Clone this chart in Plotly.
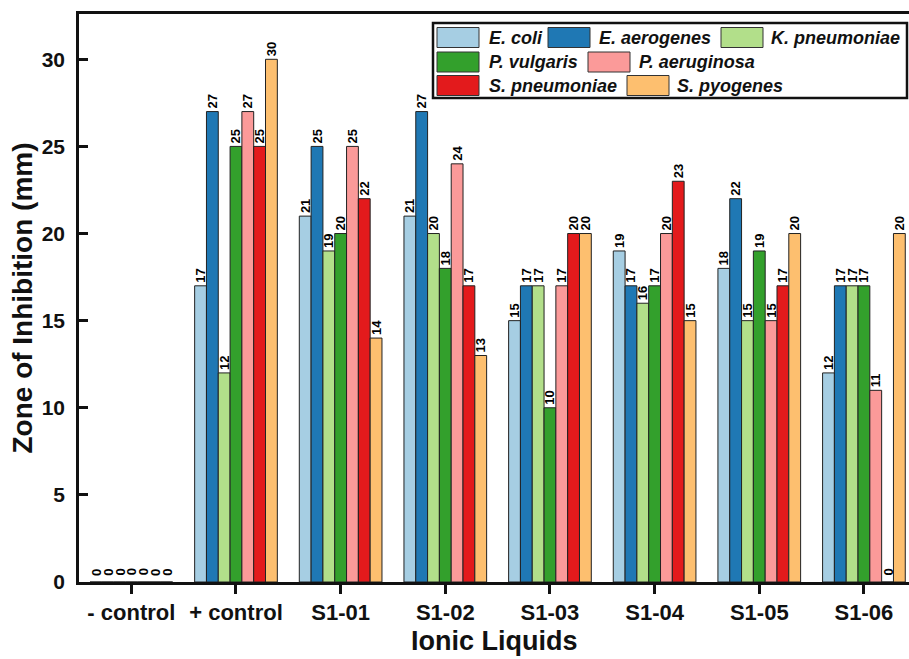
import plotly.graph_objects as go

# Zone of inhibition (mm) for each organism across the tested samples
samples = ["- control", "+ control", "S1-01", "S1-02", "S1-03", "S1-04", "S1-05", "S1-06"]
organisms = ["E. coli", "E. aerogenes", "K. pneumoniae", "P. vulgaris",
             "P. aeruginosa", "S. pneumoniae", "S. pyogenes"]

e_coli = [0, 17, 21, 21, 15, 19, 18, 12]
e_aerogenes = [0, 27, 25, 27, 17, 17, 22, 17]
k_pneumoniae = [0, 12, 19, 20, 17, 16, 15, 17]
p_vulgaris = [0, 25, 20, 18, 10, 17, 19, 17]
p_aeruginosa = [0, 27, 25, 24, 17, 20, 15, 11]
s_pneumoniae = [0, 25, 22, 17, 20, 23, 17, 0]
s_pyogenes = [0, 30, 14, 13, 20, 15, 20, 20]

series = [e_coli, e_aerogenes, k_pneumoniae, p_vulgaris,
          p_aeruginosa, s_pneumoniae, s_pyogenes]
colors = ["#a6cee3", "#1f78b4", "#b2df8a", "#33a02c", "#fb9a99", "#e31a1c", "#fdbf6f"]

W, H = 909, 659
ML, MR, MT, MB = 79, 0, 14, 77
PW, PH = W - ML - MR, H - MT - MB
BARGAP = 0.21

FONT = "Arial, Liberation Sans, sans-serif"
INK = "#111111"
LABEL_FONT = dict(family=FONT, size=13, color="#000000", weight="bold")

fig = go.Figure()
for name, vals, col in zip(organisms, series, colors):
    fig.add_trace(go.Bar(
        x=list(range(len(samples))), y=vals, name=name,
        marker=dict(color=col, line=dict(color="#222222", width=1)),
        # zero-height bars get their value label as an annotation below
        text=[str(v) if v != 0 else "" for v in vals],
        textposition="outside", textangle=-90,
        textfont=LABEL_FONT,
        constraintext="none", cliponaxis=False, showlegend=False,
    ))

annotations = []

# value labels for zero-height bars, rotated like the others
n = len(series)
bar_w = (1 - BARGAP) / n
for k, vals in enumerate(series):
    for i, v in enumerate(vals):
        if v == 0:
            annotations.append(dict(
                x=i + (k - (n - 1) / 2) * bar_w, y=v, xref="x", yref="y",
                text=f"<b>{v}</b>", textangle=-90, showarrow=False,
                xanchor="center", yanchor="middle", yshift=10,
                font=LABEL_FONT))


def px_x(px):
    return (px - ML) / PW


def px_y(py):
    return (H - MB - py) / PH


shapes = []

# legend frame
shapes.append(dict(type="rect", xref="paper", yref="paper",
                   x0=px_x(433), x1=px_x(907), y0=px_y(98), y1=px_y(23),
                   fillcolor="white", line=dict(color=INK, width=2.5), layer="above"))

# legend entries: (swatch left, text left, row center y)
legend_layout = [(437, 487, 37.5), (548, 597, 37.5), (721, 769, 37.5),
                 (437, 487, 62), (588, 637, 62),
                 (437, 487, 85.5), (627, 675, 85.5)]
for (sx, tx, cy), name, col in zip(legend_layout, organisms, colors):
    shapes.append(dict(type="rect", xref="paper", yref="paper",
                       x0=px_x(sx), x1=px_x(sx + 42), y0=px_y(cy + 10), y1=px_y(cy - 10),
                       fillcolor=col, line=dict(color="#333333", width=1), layer="above"))
    annotations.append(dict(xref="paper", yref="paper", x=px_x(tx), y=px_y(cy),
                            xanchor="left", yanchor="middle", showarrow=False,
                            text=f"<b><i>{name}</i></b>",
                            font=dict(family=FONT, size=18, color=INK)))

# x-axis title, set low near the page bottom
annotations.append(dict(xref="paper", yref="paper", x=0.5, y=px_y(641),
                        xanchor="center", yanchor="middle", showarrow=False,
                        text="<b>Ionic Liquids</b>",
                        font=dict(family=FONT, size=27, color=INK)))

yticks = [0, 5, 10, 15, 20, 25, 30]

fig.update_layout(
    width=W, height=H,
    margin=dict(l=ML, r=MR, t=MT, b=MB),
    paper_bgcolor="white", plot_bgcolor="white",
    barmode="group", bargap=BARGAP, bargroupgap=0,
    font=dict(family=FONT, color=INK),
    shapes=shapes, annotations=annotations,
    xaxis=dict(
        range=[-0.5, (W - ML) / ((864.3 - 131.7) / 7) - 0.5],
        tickmode="array", tickvals=list(range(len(samples))),
        ticktext=[f"<b>{s}</b>" for s in samples],
        tickfont=dict(family=FONT, size=22, color=INK),
        ticks="outside", ticklen=9, tickwidth=2.5, tickcolor=INK,
        showline=True, linecolor=INK, linewidth=2.5, mirror=True,
        showgrid=False, zeroline=False,
    ),
    yaxis=dict(
        range=[0, 32.6], tickvals=yticks,
        ticktext=[f"<b>{v}</b>" for v in yticks],
        tickfont=dict(family=FONT, size=21, color=INK),
        ticks="inside", ticklen=9, tickwidth=2.5, tickcolor=INK,
        ticklabelstandoff=7,
        showline=True, linecolor=INK, linewidth=2.5,
        showgrid=False, zeroline=False,
        title=dict(text="<b>Zone of Inhibition (mm)</b>",
                   font=dict(family=FONT, size=28, color=INK), standoff=1),
    ),
)

fig.write_html("out.html")
